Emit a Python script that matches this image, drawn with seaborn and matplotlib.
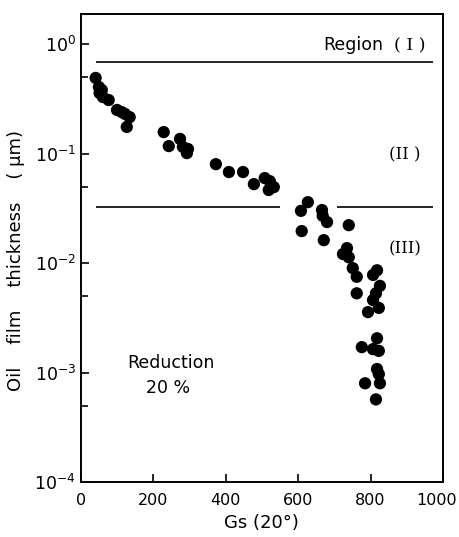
import numpy as np
import pandas as pd
import matplotlib
matplotlib.use("Agg")
import matplotlib.pyplot as plt
import matplotlib.ticker as mticker
import matplotlib.transforms as mtransforms
import seaborn as sns

# data
gs = [41, 50, 58, 52, 61, 77, 100, 113, 122, 135, 127,
      229, 243, 274, 282, 296, 293, 373, 409, 448, 478, 508, 522, 533, 519,
      627, 608, 610, 666, 668, 680, 671, 740, 735, 724, 740,
      751, 762, 762, 818, 807, 826, 815, 807, 823, 793,
      818, 776, 807, 823, 818, 823, 785, 826, 815]
thickness = [0.49, 0.405, 0.38, 0.357, 0.328, 0.308, 0.25, 0.239, 0.23, 0.215, 0.175,
             0.157, 0.117, 0.136, 0.115, 0.11, 0.101, 0.080, 0.0678, 0.0678, 0.0526, 0.0597, 0.056, 0.0494, 0.0465,
             0.036, 0.030, 0.0196, 0.0305, 0.027, 0.0237, 0.0162, 0.0222, 0.0137, 0.0121, 0.0113,
             0.009, 0.0075, 0.0053, 0.0086, 0.0078, 0.0062, 0.0053, 0.0046, 0.0039, 0.00357,
             0.00206, 0.00171, 0.00164, 0.00158, 0.00108, 0.00097, 0.0008, 0.0008, 0.00057]

# region boundaries
bound_1 = 0.685
bound_2 = 0.0325
bound_1_span = (41, 972)
bound_2_spans = [(41, 550), (707, 972)]

df = pd.DataFrame({"gs": gs, "h": thickness})

sns.set_style("ticks")
plt.rcParams["font.family"] = ["DejaVu Sans"]
plt.rcParams["mathtext.fontset"] = "dejavusans"
plt.rcParams["text.color"] = "black"
plt.rcParams["axes.labelcolor"] = "black"
plt.rcParams["xtick.color"] = "black"
plt.rcParams["ytick.color"] = "black"

fig = plt.figure(figsize=(4.59, 5.37), dpi=100)
ax = fig.add_axes([0.176, 0.102, 0.789, 0.872])

sns.scatterplot(data=df, x="gs", y="h", color="black", edgecolor="none",
                s=78, ax=ax, legend=False, zorder=3)

ax.set_yscale("log")
ax.set_xlim(0, 1000)
ax.set_ylim(1e-4, 1.88)

ax.hlines(bound_1, *bound_1_span, color="black", lw=1.2)
for a, b in bound_2_spans:
    ax.hlines(bound_2, a, b, color="black", lw=1.2)

ax.xaxis.set_major_locator(mticker.FixedLocator([0, 200, 400, 600, 800, 1000]))
ax.yaxis.set_major_locator(mticker.LogLocator(base=10, numticks=10))
ax.yaxis.set_minor_locator(mticker.LogLocator(base=10, subs=[5], numticks=10))
ax.yaxis.set_minor_formatter(mticker.NullFormatter())
ax.tick_params(which="both", direction="in")
ax.tick_params(axis="y", labelsize=12.5)
ax.tick_params(axis="x", labelsize=11.5, pad=8)
ax.tick_params(which="major", length=6, width=1.2)
ax.tick_params(which="minor", length=5, width=1.2)

# the 1000 label sits tight against the right edge, nudge it in
last = ax.xaxis.get_major_ticks()[-1].label1
last.set_transform(last.get_transform() +
                   mtransforms.ScaledTranslation(-6 / 100, 0, fig.dpi_scale_trans))

for sp in ax.spines.values():
    sp.set_visible(True)
    sp.set_linewidth(1.4)
    sp.set_color("black")

ax.set_xlabel("Gs (20°)", fontsize=13, labelpad=4)
ax.set_ylabel("Oil    film    thickness    ( μm)", fontsize=13)
ax.yaxis.set_label_coords(-0.155, 0.474)

ax.text(670, 0.97, "Region", fontsize=12.5, ha="left", va="center")
ax.text(865, 0.97, "( I )", fontsize=12.5, ha="left", va="center", family="DejaVu Serif")
ax.text(895, 0.097, "(II )", fontsize=12, ha="center", va="center", family="DejaVu Serif")
ax.text(895, 0.0135, "(III)", fontsize=12, ha="center", va="center", family="DejaVu Serif")
ax.text(249, 0.00122, "Reduction", fontsize=12.5, ha="center", va="center")
ax.text(242, 0.00072, "20 %", fontsize=12.5, ha="center", va="center")

fig.savefig("out.png", dpi=100)
